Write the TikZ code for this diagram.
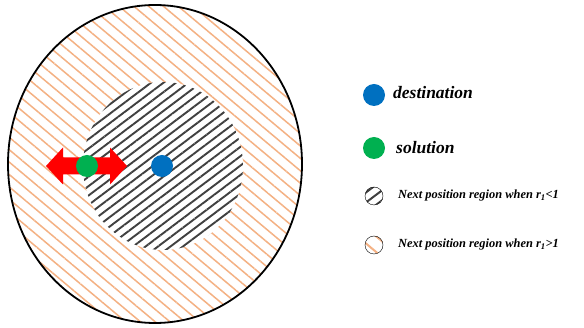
\documentclass[tikz,border=0pt]{standalone}
\usepackage{fontspec}
\setmainfont{Liberation Serif}
\usetikzlibrary{patterns.meta,positioning}

\definecolor{dotblue}{RGB}{0,112,192}
\definecolor{dotgreen}{RGB}{0,176,80}
\definecolor{hatchorange}{RGB}{244,177,131}

\tikzset{
  dot/.style={circle,inner sep=0pt,minimum size=22pt},
  legtext/.style={anchor=west,inner sep=0pt},
  bigtext/.style={font=\fontsize{17.5}{20}\selectfont\bfseries\itshape},
  smalltext/.style={font=\fontsize{12.4}{14}\selectfont\bfseries\itshape},
  inhatch/.style={pattern={Lines[angle=37,distance=7.5pt,line width=1.9pt]},pattern color=black!75},
  outhatch/.style={pattern={Lines[angle=-40,distance=9.5pt,line width=1.5pt]},pattern color=hatchorange},
}

\begin{document}
\begin{tikzpicture}[x=1pt,y=-1pt]
  \useasboundingbox (0,0) rectangle (584,328);
  % regions
  \fill[white] (155,164) ellipse [x radius=147,y radius=159];
  \fill[outhatch] (155,164) ellipse [x radius=147,y radius=159];
  \fill[white] (163,166) ellipse [x radius=80,y radius=84];
  \fill[inhatch] (163,166) ellipse [x radius=80,y radius=84];
  \draw[line width=1.8pt] (155,164) ellipse [x radius=147,y radius=159];
  % moves of the solution
  \fill[red] (46,166) -- (63,147.5) -- (63,157.5) -- (110,157.5) -- (110,147.5) -- (127,166)
    -- (110,184.5) -- (110,174.5) -- (63,174.5) -- (63,184.5) -- cycle;
  \node[dot,fill=dotgreen] (sol) at (87,166) {};
  \node[dot,fill=dotblue] (dest) at (162,166) {};
  % legend
  \node[dot,fill=dotblue] (kdest) at (374,95) {};
  \node[legtext,bigtext] (tdest) at (393,93) {destination};
  \node[dot,fill=dotgreen] (ksol) at (374,148) {};
  \node[legtext,bigtext] (tsol) at (396,148) {solution};
  \node[circle,draw,thin,minimum size=18pt,inner sep=0pt,
        pattern={Lines[angle=37,distance=8pt,line width=2pt]},pattern color=black!75] (kin) at (374,196) {};
  \node[legtext,smalltext] (tin) at (398,196) {Next position region when r\textsubscript{1}<1};
  \node[circle,draw,thin,minimum size=18pt,inner sep=0pt,
        pattern={Lines[angle=-40,distance=12pt,line width=2pt]},pattern color=hatchorange] (kout) at (374,245) {};
  \node[legtext,smalltext] (tout) at (398,245) {Next position region when r\textsubscript{1}>1};
\end{tikzpicture}
\end{document}
